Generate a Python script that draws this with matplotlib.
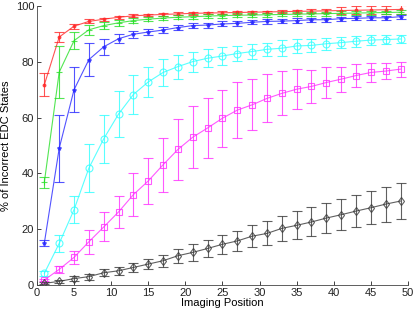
import numpy as np
import matplotlib
matplotlib.use('Agg')
import matplotlib.pyplot as plt

plt.rcParams['font.family'] = ['Liberation Sans', 'DejaVu Sans']

positions = list(range(1, 50, 2))

red_mean = [71.8, 88.9, 92.8, 94.5, 95.3, 96.0, 96.5, 96.8, 97.0, 97.2, 97.4, 97.5, 97.6,
            97.7, 97.8, 97.9, 98.0, 98.1, 98.2, 98.3, 98.4, 98.5, 98.6, 98.7, 98.8]
red_err = [4.2, 1.8, 0.9, 0.7, 0.6, 0.6, 0.5, 0.5, 0.5, 0.5, 0.5, 0.5, 0.5,
           0.5, 0.5, 0.5, 0.6, 0.6, 0.7, 0.8, 1.2, 1.4, 1.5, 1.5, 1.5]

green_mean = [36.9, 76.3, 87.6, 91.5, 93.0, 94.0, 94.8, 95.3, 95.7, 96.0, 96.2, 96.4, 96.6,
              96.7, 96.8, 96.9, 97.0, 97.1, 97.2, 97.3, 97.4, 97.5, 97.6, 97.7, 97.8]
green_err = [2.0, 9.3, 3.0, 1.7, 1.2, 1.0, 0.9, 0.8, 0.8, 0.8, 0.8, 0.8, 0.7,
             0.7, 0.7, 0.7, 0.7, 0.7, 0.7, 0.7, 0.7, 0.7, 0.7, 0.7, 0.7]

blue_mean = [15.1, 49.0, 70.0, 80.8, 85.4, 88.3, 89.9, 90.7, 91.4, 92.3, 93.0, 93.2, 93.6,
             93.8, 94.2, 94.5, 94.6, 94.8, 95.1, 95.1, 95.5, 95.6, 95.8, 95.8, 96.2]
blue_err = [1.0, 12.0, 8.0, 6.0, 2.8, 1.6, 1.3, 1.2, 1.1, 1.0, 1.0, 0.9, 0.9,
            0.9, 0.8, 0.8, 0.8, 0.8, 0.7, 0.7, 0.7, 0.7, 0.7, 0.7, 0.7]

cyan_mean = [4.2, 14.9, 27.0, 41.9, 52.4, 61.3, 68.3, 72.8, 76.2, 78.3, 80.1, 81.3, 82.1,
             83.0, 83.7, 84.5, 84.9, 85.7, 85.9, 86.5, 86.9, 87.4, 87.8, 88.0, 88.2]
cyan_err = [0.8, 3.2, 4.8, 8.6, 8.6, 8.4, 7.0, 5.5, 4.8, 4.3, 3.6, 3.3, 3.2,
            2.7, 2.6, 2.4, 2.8, 2.6, 2.4, 2.2, 2.1, 2.0, 1.8, 1.7, 1.6]

magenta_mean = [1.8, 5.6, 9.9, 15.5, 20.8, 26.2, 32.4, 37.3, 43.1, 48.6, 53.0, 56.3, 59.8,
                62.7, 64.6, 66.9, 68.7, 70.2, 71.2, 72.6, 73.8, 75.1, 76.2, 76.7, 77.4]
magenta_err = [0.5, 1.2, 2.3, 4.3, 5.2, 5.6, 7.6, 8.2, 9.7, 10.8, 11.0, 10.7, 10.2,
               10.0, 9.2, 8.6, 7.9, 7.1, 6.0, 5.4, 4.5, 4.2, 3.4, 3.0, 2.7]

black_mean = [0.6, 1.3, 2.3, 3.0, 4.4, 5.1, 6.3, 7.5, 8.7, 10.5, 11.7, 13.1, 14.6,
              15.8, 17.5, 18.5, 20.3, 21.4, 22.6, 24.0, 25.2, 26.5, 27.7, 29.0, 30.1]
black_err = [0.4, 0.6, 0.9, 1.1, 1.3, 1.5, 1.6, 1.7, 2.2, 2.5, 3.0, 3.2, 3.4,
             3.7, 3.9, 4.3, 4.6, 5.0, 5.2, 5.5, 5.6, 5.8, 6.0, 6.3, 6.5]

series = [
    (red_mean, red_err, '#ff2828', '.', 4),
    (green_mean, green_err, '#28e028', '+', 4.5),
    (blue_mean, blue_err, '#2828ff', '*', 3),
    (cyan_mean, cyan_err, '#30ffff', 'o', 5),
    (magenta_mean, magenta_err, '#ff30ff', 's', 5),
    (black_mean, black_err, '#383838', 'd', 4.5),
]

fig = plt.figure(figsize=(4.15, 3.12), dpi=100)
ax = fig.add_axes([0.089, 0.0865, 0.894, 0.894])

for mean, err, col, mk, ms in series:
    ax.errorbar(positions, mean, yerr=err, color=col, marker=mk, markersize=ms,
                markerfacecolor='none' if mk in 'osd' else col, markeredgewidth=0.8,
                linewidth=0.8, elinewidth=0.8, capsize=3.5, capthick=0.8, alpha=0.8)

ax.set_xlim(0, 50)
ax.set_ylim(0, 100)
ax.set_xticks(range(0, 51, 5))
ax.set_yticks(range(0, 101, 20))
ax.spines['top'].set_visible(False)
ax.spines['right'].set_visible(False)
for s in ['left', 'bottom']:
    ax.spines[s].set_linewidth(0.6)
    ax.spines[s].set_color('#444444')
ax.tick_params(direction='in', length=3, width=0.6, labelsize=8, colors='#222222', pad=2)
ax.set_xlabel('Imaging Position', fontsize=8, labelpad=0)
ax.set_ylabel('% of Incorrect EDC States', fontsize=8, labelpad=3)

fig.savefig('out.png', dpi=100)
